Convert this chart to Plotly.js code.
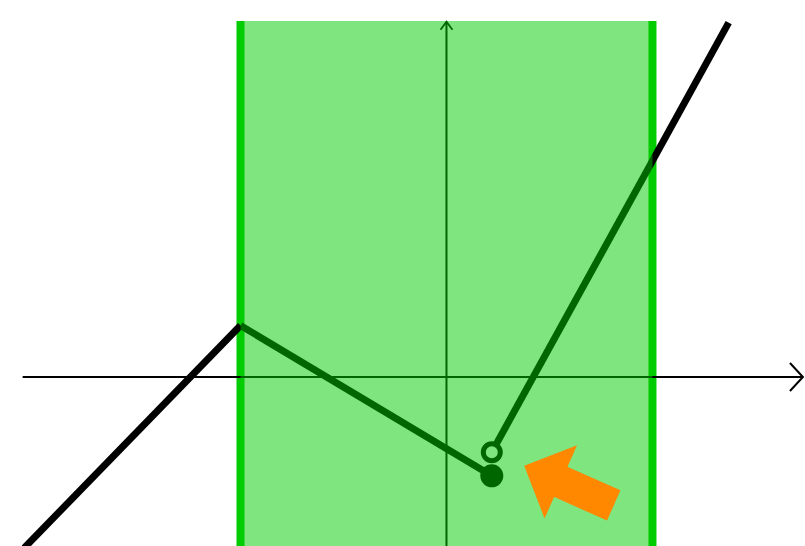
<!DOCTYPE html>
<html>
<head>
<meta charset="utf-8">
<script src="https://cdn.plot.ly/plotly-3.0.1.min.js"></script>
<style>
  html, body { margin: 0; padding: 0; background: #ffffff; }
  #graph { width: 805px; height: 546px; }
</style>
</head>
<body>
<div id="graph"></div>
<script>
// piecewise function pieces (data units, 1 unit ~ 103 px)
var leftX = [-4.1, -2];
var leftY = [-1.66, 0.5];
var midX = [-2, 0.44];
var midY = [0.5, -0.96];
var rightX = [0.44, 2.74];
var rightY = [-0.73, 3.44];

// closed / open end points at the jump
var closedX = [0.44];
var closedY = [-0.96];
var openX = [0.44];
var openY = [-0.73];

// highlighted interval
var bandX = [-2, 2];
var bandTop = 3.456;

// axes ends
var xAxisEnds = [-4.115, 3.461];
var yAxisEnds = [-1.8, 3.449];

// orange pointer tip
var pointerX = 0.755;
var pointerY = -0.861;

var xRange = [-4.335, 3.481];
var yRange = [-1.641, 3.66];

function chevron(tipX, tipY, dx, dy, horizontal) {
    // small open arrowhead at an axis end
    if (horizontal) {
        return { x: [tipX - dx, tipX, tipX - dx], y: [tipY + dy, tipY, tipY - dy] };
    }
    return { x: [tipX - dx, tipX, tipX + dx], y: [tipY - dy, tipY, tipY - dy] };
}

function lineTrace(x, y, width) {
    return {
        x: x,
        y: y,
        type: 'scatter',
        mode: 'lines',
        line: { color: '#000000', width: width },
        hoverinfo: 'skip'
    };
}

function pointer(head, width, size, standoff) {
    return {
        x: pointerX,
        y: pointerY,
        xref: 'x', yref: 'y',
        text: ' ',
        font: { size: 1 },
        borderpad: 0,
        showarrow: true,
        arrowhead: head,
        arrowwidth: width,
        arrowsize: size,
        standoff: standoff,
        arrowcolor: '#ff8800',
        ax: 90,
        ay: 40
    };
}

function draw() {
    var xHead = chevron(xAxisEnds[1], 0, 0.126, 0.136, true);
    var yHead = chevron(0, yAxisEnds[1], 0.058, 0.078, false);

    var traces = [
        lineTrace(xAxisEnds, [0, 0], 2),
        lineTrace(xHead.x, xHead.y, 2),
        lineTrace([0, 0], yAxisEnds, 2),
        lineTrace(yHead.x, yHead.y, 1.8),
        lineTrace(leftX, leftY, 7),
        lineTrace(midX, midY, 7),
        lineTrace(rightX, rightY, 7),
        {
            x: closedX,
            y: closedY,
            type: 'scatter',
            mode: 'markers',
            marker: { color: '#000000', size: 23, line: { width: 0 } },
            hoverinfo: 'skip'
        },
        {
            x: openX,
            y: openY,
            type: 'scatter',
            mode: 'markers',
            marker: { color: '#ffffff', size: 17, line: { color: '#000000', width: 5 } },
            hoverinfo: 'skip'
        }
    ];

    var shapes = [];
    bandX.forEach(function(bx) {
        shapes.push({
            type: 'line',
            xref: 'x', yref: 'y',
            x0: bx, x1: bx, y0: yRange[0] - 1, y1: bandTop,
            line: { color: '#00cc00', width: 8 },
            layer: 'below'
        });
    });
    shapes.push({
        type: 'rect',
        xref: 'x', yref: 'y',
        x0: bandX[0], x1: bandX[1], y0: yRange[0] - 1, y1: bandTop,
        fillcolor: '#00cc00',
        opacity: 0.5,
        line: { width: 0 },
        layer: 'above'
    });

    var layout = {
        width: 805,
        height: 546,
        margin: { l: 0, r: 0, t: 0, b: 0, pad: 0 },
        paper_bgcolor: '#ffffff',
        plot_bgcolor: '#ffffff',
        showlegend: false,
        xaxis: { range: xRange, visible: false, fixedrange: true },
        yaxis: { range: yRange, visible: false, fixedrange: true },
        shapes: shapes,
        annotations: [
            // thick shaft stops at the head base, head drawn by a thin arrow
            pointer(0, 33, 1, 36),
            pointer(1, 2, 6.67, 0)
        ]
    };

    Plotly.newPlot('graph', traces, layout, { staticPlot: true, displayModeBar: false });
}

document.addEventListener('DOMContentLoaded', function() {
    draw();
});
</script>
</body>
</html>
